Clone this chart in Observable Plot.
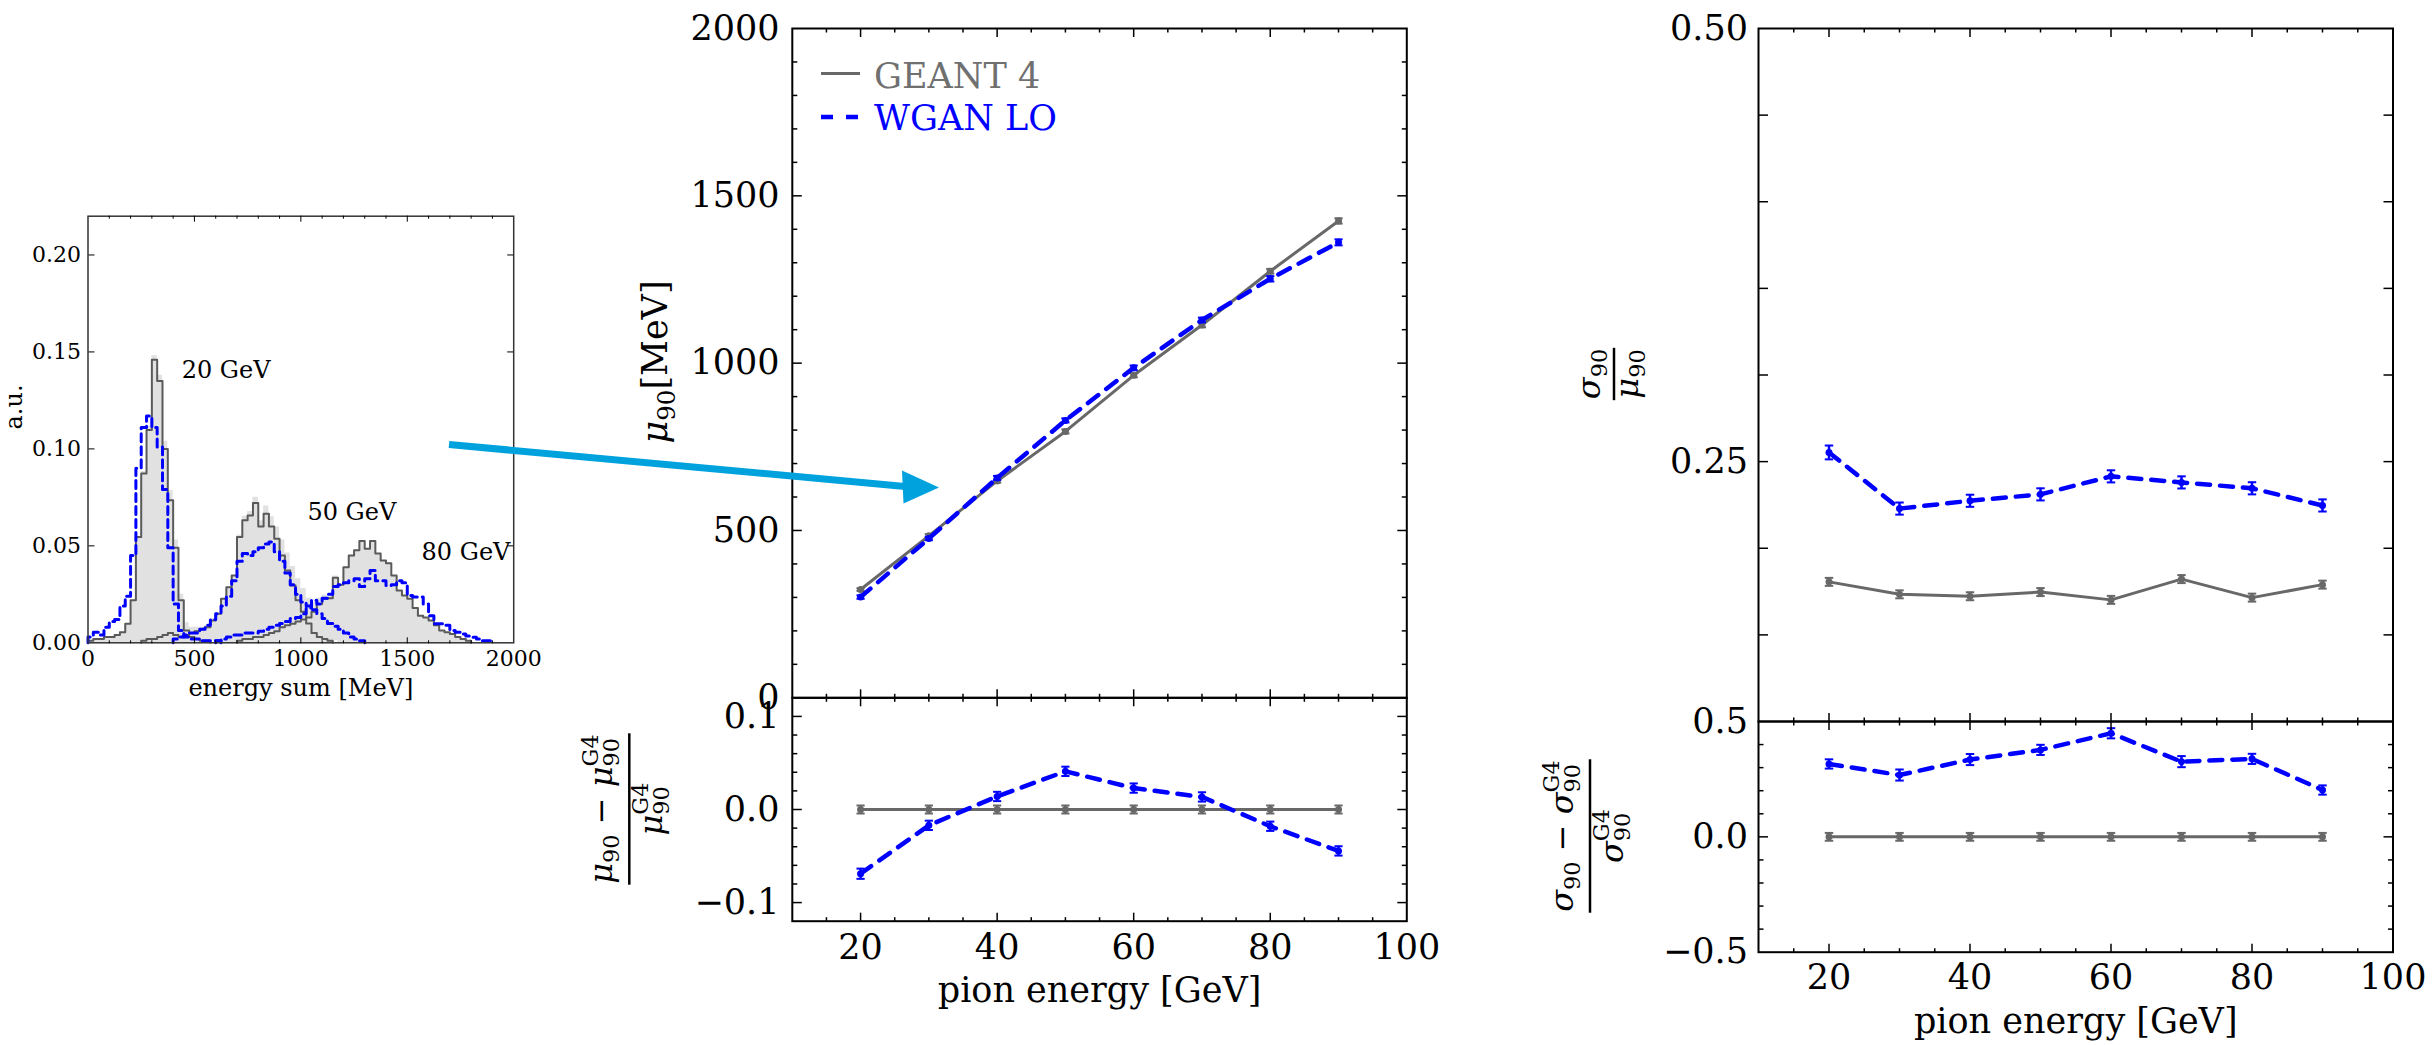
<!DOCTYPE html>
<html>
<head>
<meta charset="utf-8">
<script src="https://cdn.jsdelivr.net/npm/d3@7"></script>
<script src="https://cdn.jsdelivr.net/npm/@observablehq/plot@0.6"></script>
<style>
  body { margin: 0; background: #fff; }
  #fig { position: relative; width: 2433px; height: 1045px; background: #fff; overflow: hidden; }
  #fig > svg { position: absolute; left: 0; top: 0; }
</style>
</head>
<body>
<div id="fig"></div>
<script>
// ---------- energy-sum histograms (25 MeV bins, a.u.) ----------
const BIN = 25;
const g4_20GeV_start = 0;
const g4_20GeV = [0.001,0.002,0.002,0.003,0.003,0.004,0.0055,0.0098,0.022,0.0546,0.0873,0.1097,0.146,0.135,0.100,0.0735,0.049,0.022,0.0064,0.003,0.002,0.001,0.001];
const wgan_20GeV_start = 0;
const wgan_20GeV = [0.003,0.0055,0.004,0.008,0.011,0.012,0.019,0.024,0.045,0.090,0.111,0.117,0.111,0.101,0.079,0.049,0.020,0.0064,0.003,0.002,0.002,0.001,0.001,0.001,0.001];
const g4_50GeV_start = 250;
const g4_50GeV = [0.001,0.002,0.002,0.003,0.004,0.005,0.004,0.003,0.004,0.005,0.006,0.007,0.008,0.0115,0.015,0.0227,0.0287,0.0347,0.0546,0.0632,0.0657,0.0721,0.060,0.0666,0.060,0.0537,0.045,0.0373,0.0296,0.022,0.016,0.010,0.005,0.003,0.002,0.001];
const wgan_50GeV_start = 400;
const wgan_50GeV = [0.002,0.003,0.004,0.005,0.005,0.007,0.009,0.012,0.015,0.019,0.024,0.032,0.042,0.046,0.045,0.047,0.049,0.051,0.052,0.047,0.042,0.036,0.030,0.025,0.021,0.019,0.017,0.015,0.0125,0.010,0.0085,0.007,0.005,0.003,0.002,0.001];
const g4_80GeV_start = 700;
const g4_80GeV = [0.001,0.002,0.002,0.003,0.003,0.004,0.005,0.006,0.008,0.009,0.0098,0.011,0.012,0.013,0.016,0.020,0.0227,0.023,0.0335,0.030,0.039,0.045,0.0477,0.0525,0.0485,0.0525,0.046,0.0425,0.041,0.0347,0.027,0.0244,0.0227,0.018,0.014,0.013,0.0115,0.009,0.0064,0.0055,0.0046,0.003,0.002,0.001];
const wgan_80GeV_start = 600;
const wgan_80GeV = [0.001,0.002,0.003,0.004,0.004,0.005,0.005,0.005,0.006,0.007,0.008,0.009,0.010,0.011,0.0125,0.013,0.015,0.018,0.022,0.020,0.023,0.025,0.029,0.030,0.031,0.032,0.033,0.029,0.033,0.0373,0.032,0.032,0.0296,0.030,0.032,0.031,0.0244,0.0236,0.0236,0.020,0.014,0.0098,0.0098,0.009,0.0064,0.0055,0.0046,0.0035,0.0029,0.002,0.001,0.001];
const histNotes = [
  {label: "20 GeV", x: 440, y: 0.1406},
  {label: "50 GeV", x: 1031, y: 0.0673},
  {label: "80 GeV", x: 1567, y: 0.0467}
];

// ---------- response vs pion energy ----------
const energies = [20, 30, 40, 50, 60, 70, 80, 90];
const muG4 = [323.6, 484, 648, 796, 963.6, 1114, 1274.6, 1425];
const muG4Err = [4, 5, 5, 6, 6, 7, 7, 8];
const muWgan = [301, 476, 657, 829, 986, 1129, 1252, 1361];
const muWganErr = [5, 5, 6, 6, 7, 7, 8, 9];
const muRelG4 = [0, 0, 0, 0, 0, 0, 0, 0];
const muRelG4Err = [0.0043, 0.0043, 0.0043, 0.0043, 0.0043, 0.0043, 0.0043, 0.0043];
const muRelWgan = [-0.069, -0.017, 0.014, 0.041, 0.023, 0.0135, -0.018, -0.0445];
const muRelWganErr = [0.0055, 0.005, 0.005, 0.005, 0.005, 0.005, 0.005, 0.005];

// ---------- relative resolution vs pion energy ----------
const resG4 = [0.1806, 0.1734, 0.1723, 0.1747, 0.1702, 0.1822, 0.1715, 0.179];
const resG4Err = [0.0023, 0.0023, 0.0023, 0.0023, 0.0023, 0.0023, 0.0023, 0.0023];
const resWgan = [0.2553, 0.2229, 0.2274, 0.2311, 0.2415, 0.238, 0.2346, 0.2247];
const resWganErr = [0.004, 0.0035, 0.0035, 0.0035, 0.0035, 0.0035, 0.0035, 0.0035];
const sigRelG4 = [0, 0, 0, 0, 0, 0, 0, 0];
const sigRelG4Err = [0.017, 0.017, 0.017, 0.017, 0.017, 0.017, 0.017, 0.017];
const sigRelWgan = [0.316, 0.268, 0.335, 0.377, 0.449, 0.326, 0.338, 0.203];
const sigRelWganErr = [0.02, 0.024, 0.024, 0.022, 0.022, 0.024, 0.022, 0.02];

// ---------- styling ----------
const W = 2433, H = 1045;
const FONT = "DejaVu Serif";
const GRAY = "#686868", BLUE = "#0000ff";

const fig = document.getElementById("fig");

function rangeStep(a, b, s) {
  const out = [];
  for (let i = 0; a + i * s <= b + 1e-9; i++) out.push(+(a + i * s).toFixed(6));
  return out;
}
function without(all, majors) {
  return all.filter(v => !majors.some(m => Math.abs(m - v) < 1e-9));
}

// inward ticks on all four sides of a frame
function frameTicks({xMajor, xMinor = [], yMajor, yMinor = [], major, minor, sw = 1.5}) {
  const out = [];
  for (const [ticks, len] of [[xMajor, major], [xMinor, minor]]) {
    if (!ticks.length) continue;
    out.push(Plot.axisX({ticks, anchor: "top", frameAnchor: "bottom", tickSize: len, fill: "none", label: null, strokeWidth: sw}));
    out.push(Plot.axisX({ticks, anchor: "bottom", frameAnchor: "top", tickSize: len, fill: "none", label: null, strokeWidth: sw}));
  }
  for (const [ticks, len] of [[yMajor, major], [yMinor, minor]]) {
    if (!ticks.length) continue;
    out.push(Plot.axisY({ticks, anchor: "right", frameAnchor: "left", tickSize: len, fill: "none", label: null, strokeWidth: sw}));
    out.push(Plot.axisY({ticks, anchor: "left", frameAnchor: "right", tickSize: len, fill: "none", label: null, strokeWidth: sw}));
  }
  return out;
}

function panel({frame, x, y, marks}) {
  const [l, t, r, b] = frame;
  const svg = Plot.plot({
    width: W, height: H,
    marginLeft: l, marginTop: t, marginRight: W - r, marginBottom: H - b,
    x: {type: "linear", domain: x},
    y: {type: "linear", domain: y},
    style: {background: "transparent", overflow: "visible", fontFamily: FONT, color: "black"},
    marks
  });
  fig.appendChild(svg);
  return svg;
}

// ---------- left: histograms ----------
function steps(series, start, values) {
  const pts = [{series, e: start, v: 0}];
  values.forEach((v, i) => pts.push({series, e: start + i * BIN, v}));
  const end = start + values.length * BIN;
  pts.push({series, e: end, v: values[values.length - 1]}, {series, e: end, v: 0});
  return pts;
}
const g4Steps = [
  ...steps("20", g4_20GeV_start, g4_20GeV),
  ...steps("50", g4_50GeV_start, g4_50GeV),
  ...steps("80", g4_80GeV_start, g4_80GeV)
];
const wganSteps = [
  ...steps("20", wgan_20GeV_start, wgan_20GeV),
  ...steps("50", wgan_50GeV_start, wgan_50GeV),
  ...steps("80", wgan_80GeV_start, wgan_80GeV)
];

panel({
  frame: [87.5, 215.7, 513.2, 642.3],
  x: [0, 2000], y: [0, 0.22],
  marks: [
    Plot.areaY(g4Steps, {x: "e", y: "v", z: "series", curve: "step-after", fill: "#9a9a9a", fillOpacity: 0.3}),
    Plot.lineY(g4Steps, {x: "e", y: "v", z: "series", curve: "step-after", stroke: "#5a5a5a", strokeWidth: 2}),
    Plot.lineY(wganSteps, {x: "e", y: "v", z: "series", curve: "step-after", stroke: BLUE, strokeWidth: 3, strokeDasharray: "8,5"}),
    Plot.text(histNotes, {x: "x", y: "y", text: "label", textAnchor: "start", lineAnchor: "middle", fontSize: 24}),
    Plot.frame({stroke: "#333", strokeWidth: 1.5}),
    ...frameTicks({
      xMajor: rangeStep(500, 1500, 500),
      xMinor: without(rangeStep(100, 1900, 100), rangeStep(0, 2000, 500)),
      yMajor: rangeStep(0.05, 0.2, 0.05),
      major: 6, minor: 3, sw: 1
    }),
    Plot.axisX({ticks: rangeStep(0, 2000, 500), anchor: "bottom", tickSize: 0, tickPadding: 8, fontSize: 22, label: null, tickFormat: d => String(d)}),
    Plot.axisY({ticks: rangeStep(0, 0.2, 0.05), anchor: "left", tickSize: 0, tickPadding: 7, fontSize: 22, label: null, tickFormat: d3.format(".2f")}),
    Plot.text(["energy sum [MeV]"], {frameAnchor: "bottom", dy: 45.7, text: d => d, fontSize: 24, lineAnchor: "middle"}),
    Plot.text(["a.u."], {frameAnchor: "left", dx: -74, rotate: -90, text: d => d, fontSize: 24, lineAnchor: "middle"})
  ]
});

// ---------- series helpers ----------
const rows = energies.map((E, i) => ({
  E,
  muG4: muG4[i], muG4Err: muG4Err[i], muWgan: muWgan[i], muWganErr: muWganErr[i],
  muRelG4: muRelG4[i], muRelG4Err: muRelG4Err[i], muRelWgan: muRelWgan[i], muRelWganErr: muRelWganErr[i],
  resG4: resG4[i], resG4Err: resG4Err[i], resWgan: resWgan[i], resWganErr: resWganErr[i],
  sigRelG4: sigRelG4[i], sigRelG4Err: sigRelG4Err[i], sigRelWgan: sigRelWgan[i], sigRelWganErr: sigRelWganErr[i]
}));

function seriesMarks(key, color, dashed) {
  const err = key + "Err";
  const cap = 0.6;
  const lo = d => d[key] - d[err], hi = d => d[key] + d[err];
  const lineOpts = {x: "E", y: key, stroke: color, strokeWidth: dashed ? 4.5 : 3};
  if (dashed) lineOpts.strokeDasharray = "13,10";
  return [
    Plot.line(rows, lineOpts),
    Plot.ruleX(rows, {x: "E", y1: lo, y2: hi, stroke: color, strokeWidth: 2.5}),
    Plot.link(rows, {x1: d => d.E - cap, x2: d => d.E + cap, y1: lo, y2: lo, stroke: color, strokeWidth: 2}),
    Plot.link(rows, {x1: d => d.E - cap, x2: d => d.E + cap, y1: hi, y2: hi, stroke: color, strokeWidth: 2}),
    Plot.dot(rows, {x: "E", y: key, r: 3.5, fill: color})
  ];
}

const xMajor = [20, 40, 60, 80];
const xMinor = without(rangeStep(15, 95, 5), xMajor);
const xLabels = [20, 40, 60, 80, 100];

// ---------- middle: mean response ----------
const m1 = panel({
  frame: [791.8, 28, 1406.3, 697.3],
  x: [10, 100], y: [0, 2000],
  marks: [
    ...seriesMarks("muG4", GRAY, false),
    ...seriesMarks("muWgan", BLUE, true),
    Plot.frame({stroke: "black", strokeWidth: 2}),
    ...frameTicks({xMajor, xMinor, yMajor: [500, 1000, 1500], yMinor: without(rangeStep(100, 1900, 100), [500, 1000, 1500]), major: 9, minor: 4.5}),
    Plot.axisY({ticks: rangeStep(0, 2000, 500), anchor: "left", tickSize: 0, tickPadding: 12.8, fontSize: 35, label: null, tickFormat: d => String(d)})
  ]
});

const m2 = panel({
  frame: [791.8, 697.3, 1406.3, 920.7],
  x: [10, 100], y: [-0.12, 0.12],
  marks: [
    ...seriesMarks("muRelG4", GRAY, false),
    ...seriesMarks("muRelWgan", BLUE, true),
    Plot.frame({stroke: "black", strokeWidth: 2}),
    ...frameTicks({xMajor, xMinor, yMajor: [-0.1, 0, 0.1], yMinor: without(rangeStep(-0.1, 0.1, 0.02), [-0.1, 0, 0.1]), major: 9, minor: 4.5}),
    Plot.axisY({ticks: [-0.1, 0, 0.1], anchor: "left", tickSize: 0, tickPadding: 12.8, fontSize: 35, label: null, tickFormat: d3.format(".1f")}),
    Plot.axisX({ticks: xLabels, anchor: "bottom", tickSize: 0, tickPadding: 13.4, fontSize: 35, label: null, tickFormat: d => String(d)}),
    Plot.text(["pion energy [GeV]"], {frameAnchor: "bottom", dy: 69.3, text: d => d, fontSize: 35, lineAnchor: "middle"})
  ]
});

// ---------- right: relative resolution ----------
const r1 = panel({
  frame: [1758, 28, 2392.5, 721],
  x: [10, 100], y: [0.1, 0.5],
  marks: [
    ...seriesMarks("resG4", GRAY, false),
    ...seriesMarks("resWgan", BLUE, true),
    Plot.frame({stroke: "black", strokeWidth: 2}),
    ...frameTicks({xMajor, xMinor, yMajor: rangeStep(0.15, 0.45, 0.05), major: 9, minor: 4.5}),
    Plot.axisY({ticks: [0.25, 0.5], anchor: "left", tickSize: 0, tickPadding: 10.5, fontSize: 35, label: null, tickFormat: d3.format(".2f")})
  ]
});

const r2 = panel({
  frame: [1758, 721, 2392.5, 951.7],
  x: [10, 100], y: [-0.5, 0.5],
  marks: [
    ...seriesMarks("sigRelG4", GRAY, false),
    ...seriesMarks("sigRelWgan", BLUE, true),
    Plot.frame({stroke: "black", strokeWidth: 2}),
    ...frameTicks({xMajor, xMinor, yMajor: [0], yMinor: without(rangeStep(-0.4, 0.4, 0.1), [0]), major: 9, minor: 4.5}),
    Plot.axisY({ticks: [-0.5, 0, 0.5], anchor: "left", tickSize: 0, tickPadding: 10.5, fontSize: 35, label: null, tickFormat: d3.format(".1f")}),
    Plot.axisX({ticks: xLabels, anchor: "bottom", tickSize: 0, tickPadding: 12.4, fontSize: 35, label: null, tickFormat: d => String(d)}),
    Plot.text(["pion energy [GeV]"], {frameAnchor: "bottom", dy: 70, text: d => d, fontSize: 35, lineAnchor: "middle"})
  ]
});

// ---------- legend ----------
{
  const leg = d3.select(m1).append("g")
    .attr("font-family", FONT).attr("font-size", 35).attr("text-anchor", "start");
  leg.append("line").attr("x1", 821).attr("x2", 860).attr("y1", 73.5).attr("y2", 73.5)
    .attr("stroke", GRAY).attr("stroke-width", 3);
  leg.append("text").attr("x", 874).attr("y", 88).attr("fill", "#707070").text("GEANT 4");
  leg.append("line").attr("x1", 821).attr("x2", 860).attr("y1", 117).attr("y2", 117)
    .attr("stroke", BLUE).attr("stroke-width", 4.5).attr("stroke-dasharray", "12,13");
  leg.append("text").attr("x", 874).attr("y", 130).attr("fill", BLUE).text("WGAN LO");
}

// ---------- math axis titles ----------
function mathRow(g, pieces, M, baseY) {
  const row = g.append("g");
  const s = 0.7 * M;
  let x = 0;
  const put = (str, size, dy, italic) => {
    const t = row.append("text").attr("x", x).attr("y", baseY + dy)
      .attr("font-size", size).attr("font-style", italic ? "italic" : "normal").text(str);
    return t.node().getComputedTextLength();
  };
  for (const p of pieces) {
    if (p.t !== undefined) x += put(p.t, M, 0, p.it);
    else {
      let w = 0;
      if (p.sub) w = Math.max(w, put(p.sub, s, 0.22 * M, false));
      if (p.sup) w = Math.max(w, put(p.sup, s, -0.45 * M, false));
      x += w;
    }
  }
  row.attr("transform", `translate(${-x / 2},0)`);
  return x;
}
function rotatedGroup(svg, bx, cy) {
  return d3.select(svg).append("g")
    .attr("transform", `translate(${bx},${cy}) rotate(-90)`)
    .attr("font-family", FONT).attr("fill", "black").attr("text-anchor", "start");
}
function fraction(svg, {bx, cy, num, den, M, numBase, denBase}) {
  const g = rotatedGroup(svg, bx, cy);
  const wn = mathRow(g, num, M, numBase);
  const wd = mathRow(g, den, M, denBase);
  const w = Math.max(wn, wd) + 2;
  g.append("line").attr("x1", -w / 2).attr("x2", w / 2).attr("stroke", "black").attr("stroke-width", 2.5);
}

mathRow(rotatedGroup(m1, 667, 362), [{t: "μ", it: true}, {sub: "90"}, {t: "[MeV]"}], 35, 0);

fraction(m2, {
  bx: 629.3, cy: 809, M: 32, numBase: -17, denBase: 33,
  num: [{t: "μ", it: true}, {sub: "90"}, {t: " − "}, {t: "μ", it: true}, {sub: "90", sup: "G4"}],
  den: [{t: "μ", it: true}, {sub: "90", sup: "G4"}]
});
fraction(r1, {
  bx: 1614, cy: 374, M: 32, numBase: -14, denBase: 24,
  num: [{t: "σ", it: true}, {sub: "90"}],
  den: [{t: "μ", it: true}, {sub: "90"}]
});
fraction(r2, {
  bx: 1590, cy: 836, M: 32, numBase: -17, denBase: 33,
  num: [{t: "σ", it: true}, {sub: "90"}, {t: " − "}, {t: "σ", it: true}, {sub: "90", sup: "G4"}],
  den: [{t: "σ", it: true}, {sub: "90", sup: "G4"}]
});

// ---------- pointer from the histograms to the response panel ----------
{
  const ov = d3.select(fig).append("svg")
    .attr("width", W).attr("height", H)
    .style("position", "absolute").style("left", "0px").style("top", "0px");
  ov.append("line").attr("x1", 449).attr("y1", 444.5).attr("x2", 905).attr("y2", 486.5)
    .attr("stroke", "#00a2de").attr("stroke-width", 7);
  ov.append("polygon").attr("points", "902,470.5 903.5,503.5 939,487.5").attr("fill", "#00a2de");
}
</script>
</body>
</html>
